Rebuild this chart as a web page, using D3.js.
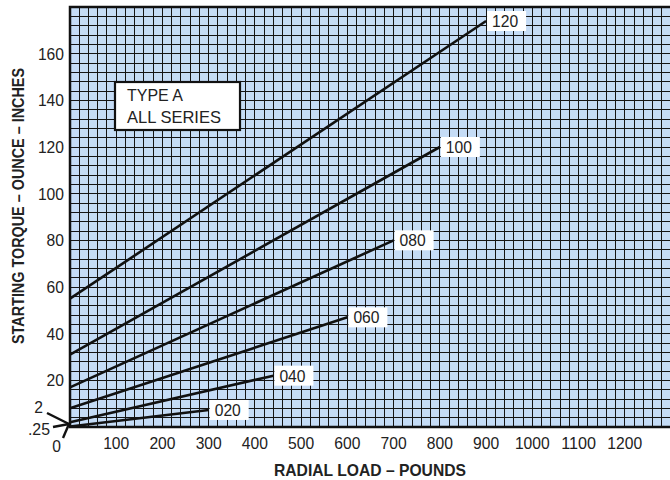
<!DOCTYPE html>
<html><head><meta charset="utf-8">
<script src="https://cdn.jsdelivr.net/npm/d3@7"></script>
<style>
html,body{margin:0;padding:0;background:#fff;}
svg{display:block;}
text{font-family:"Liberation Sans",Arial,sans-serif;fill:#222;}
</style></head>
<body>
<svg id="c" width="670" height="480"></svg>
<script>
// ---- data ----
const seriesNames = ["120","100","080","060","040","020"];
const startTorque = [55, 31, 17, 8, 2, 0.25];      // ounce-inches at 0 lb
const endLoad     = [900, 800, 700, 600, 440, 300]; // pounds
const endTorque   = [174, 120, 80, 47, 22, 7.3];    // ounce-inches
const xTicks = [100,200,300,400,500,600,700,800,900,1000,1100,1200];
const yTicks = [20,40,60,80,100,120,140,160];
const specialYLabels = ["2", ".25", "0"];
const boxLines = ["TYPE A", "ALL SERIES"];

const svg = d3.select("#c");
const L = 70, R = 671, T = 7, B = 427;
const x = d3.scaleLinear().domain([0,1300]).range([L,R]);
const y = d3.scaleLinear().domain([0,180]).range([B,T]);
const FS = 17;
function num(sel){ // condensed numerals
  sel.attr("font-size",FS).each(function(){
    const s = d3.select(this); const n = s.text().length;
    s.attr("textLength", n*8.7 - (s.text().startsWith(".")?4:0)).attr("lengthAdjust","spacingAndGlyphs");
  });
}

// background
svg.append("rect").attr("x",L).attr("y",T).attr("width",R-L).attr("height",B-T).attr("fill","#c5dcf6");

// grid
const g = svg.append("g").attr("shape-rendering","crispEdges");
g.selectAll("line.v").data(d3.range(20,1300,20)).join("line")
  .attr("x1",d=>x(d)).attr("x2",d=>x(d)).attr("y1",T).attr("y2",B)
  .attr("stroke","#151515").attr("stroke-width",1);
g.selectAll("line.h").data(d3.range(4,180,4)).join("line")
  .attr("y1",d=>y(d)).attr("y2",d=>y(d)).attr("x1",L).attr("x2",R)
  .attr("stroke","#151515").attr("stroke-width",1);

// frame
svg.append("path").attr("d",`M${R},${T}H${L}V${B}H${R}`).attr("fill","none").attr("stroke","#111").attr("stroke-width",2.5);

// series lines and labels
seriesNames.forEach((name,i)=>{
  svg.append("line")
    .attr("x1",x(0)).attr("y1",y(startTorque[i]))
    .attr("x2",x(endLoad[i])).attr("y2",y(endTorque[i]))
    .attr("stroke","#111").attr("stroke-width",2.6);
  const ex = x(endLoad[i]), ey = y(endTorque[i]);
  svg.append("rect").attr("x",ex+1).attr("y",ey-10).attr("width",39).attr("height",20).attr("fill","#fff");
  svg.append("text").attr("x",ex+6).attr("y",ey+6).text(name).call(num);
});

// x ticks
svg.append("g").selectAll("text").data(xTicks).join("text")
  .attr("x",d=>x(d)).attr("y",449).attr("text-anchor","middle").text(d=>d).call(num);
// y ticks
svg.append("g").selectAll("text").data(yTicks).join("text")
  .attr("x",64).attr("y",d=>y(d)+6).attr("text-anchor","end").text(d=>d).call(num);

// special labels near origin
const ox = x(0)-1, oy = y(0)-3;
const sp = [{t:specialYLabels[0], tx:43, ty:413, lx:47, ly:413},
            {t:specialYLabels[1], tx:50, ty:435, lx:53, ly:427},
            {t:specialYLabels[2], tx:61, ty:452, lx:63, ly:438}];
sp.forEach(s=>{
  svg.append("text").attr("x",s.tx).attr("y",s.ty).attr("text-anchor","end").text(s.t).call(num);
  svg.append("line").attr("x1",s.lx).attr("y1",s.ly).attr("x2",ox).attr("y2",oy).attr("stroke","#111").attr("stroke-width",2.4);
});

// type box
svg.append("rect").attr("x",115).attr("y",82).attr("width",125).attr("height",48).attr("fill","#fff").attr("stroke","#111").attr("stroke-width",2.2);
boxLines.forEach((t,i)=>{
  svg.append("text").attr("x",127).attr("y",101+i*22).attr("font-size",FS)
    .attr("textLength", i===0?56:94).attr("lengthAdjust","spacingAndGlyphs").text(t);
});

// axis titles
svg.append("text").attr("x",370).attr("y",476).attr("text-anchor","middle")
  .attr("font-size",16.5).attr("font-weight","bold")
  .attr("textLength",192).attr("lengthAdjust","spacingAndGlyphs").text("RADIAL LOAD – POUNDS");
svg.append("text").attr("transform","translate(24,206) rotate(-90)").attr("text-anchor","middle")
  .attr("font-size",16.5).attr("font-weight","bold")
  .attr("textLength",276).attr("lengthAdjust","spacingAndGlyphs").text("STARTING TORQUE – OUNCE – INCHES");
</script>
</body></html>
